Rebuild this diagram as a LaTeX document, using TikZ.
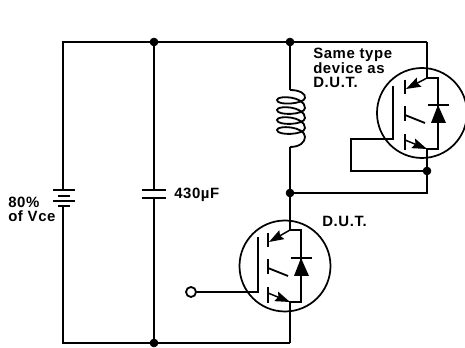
\documentclass[tikz,border=0pt]{standalone}
\usepackage{fontspec}
\setmainfont[LetterSpace=4]{Liberation Sans}
\usetikzlibrary{arrows.meta}
\tikzset{
    wire/.style={line width=1.35pt},
    ring/.style={line width=1.3pt},
    label/.style={font=\bfseries\fontsize{11.2}{11}\selectfont,align=left,inner sep=0pt},
    emitter/.style={line width=1.1pt,-{Stealth[length=11pt,width=7.5pt,inset=1.5pt]}}
}
\begin{document}
\begin{tikzpicture}[x=0.75pt,y=-0.75pt]
    \useasboundingbox (0,0) rectangle (465,348);

    \coordinate (TL) at (63,42);
    \coordinate (TC) at (154,42);
    \coordinate (TI) at (290,42);
    \coordinate (TR) at (427,42);
    \coordinate (BL) at (63,343);
    \coordinate (BC) at (154,343);
    \coordinate (BI) at (290,343);

    %bateria
    \coordinate (Bat1) at (63,190);
    \coordinate (Bat2) at (63,206);
    \draw[wire] (Bat2) -- (BL) -- (BC) -- (BI);
    \draw[wire] (Bat1) -- (TL) -- (TC) -- (TI) -- (TR);
    \draw[wire] (53,190) -- (75,190);
    \draw[wire] (58,196) -- (70,196);
    \draw[wire] (53,201) -- (75,201);
    \draw[wire] (58,206) -- (70,206);

    %condensador
    \coordinate (Cap1) at (154,190);
    \coordinate (Cap2) at (154,198);
    \draw[wire] (TC) -- (Cap1);
    \draw[wire] (Cap2) -- (BC);
    \draw[wire] (142,190) -- (166,190);
    \draw[wire] (142,198) -- (166,198);

    %bobina
    \coordinate (L1) at (290,90);
    \coordinate (L2) at (290,147);
    \coordinate (Mid) at (290,193);
    \coordinate (MidR) at (427,193);
    \draw[wire] (TI) -- (L1);
    \draw[wire] (L2) -- (Mid);
    \draw[wire] (L1) .. controls (300,90) and (306,94) .. (305,98)
        .. controls (304,104) and (277,106) .. (277,100)
        .. controls (277,95) and (305,96) .. (305,108)
        .. controls (305,115) and (277,116) .. (277,110)
        .. controls (277,105) and (305,106) .. (305,118)
        .. controls (305,125) and (277,126) .. (277,120)
        .. controls (277,115) and (305,116) .. (305,128)
        .. controls (305,135) and (277,136) .. (277,130)
        .. controls (277,125) and (305,126) .. (305,137)
        .. controls (305,142) and (300,147) .. (L2);

    %transistor auxiliar
    \coordinate (UC) at (422,113);
    \coordinate (UA) at (427,78);
    \coordinate (UB) at (427,149);
    \coordinate (UD) at (438,78);
    \coordinate (UE) at (438,149);
    \coordinate (UG) at (393,86);
    \coordinate (UH) at (393,139);
    \coordinate (UJ) at (351,139);
    \coordinate (UK) at (351,171);
    \coordinate (UL) at (427,171);
    \draw[ring] (UC) circle (45);
    \draw[wire] (TR) -- (UA) -- (UD) -- (UE) -- (UB) -- (UL) -- (MidR) -- (Mid);
    \draw[wire] (UG) -- (UH) -- (UJ) -- (UK) -- (UL);
    \draw[wire] (405,80) -- (405,94);
    \draw[wire] (405,106) -- (405,121);
    \draw[wire] (405,134) -- (405,150);
    \draw[wire] (405,115) -- (425,123);
    \draw[emitter] (UA) -- (406,89);
    \draw[emitter] (405,140) -- (UB);
    \draw[wire] (428,105) -- (449,105);
    \fill (438,105) -- (431,123) -- (446,123) -- cycle;

    %transistor D.U.T.
    \coordinate (DC) at (285,266);
    \coordinate (DA) at (290,230);
    \coordinate (DB) at (290,302);
    \coordinate (DD) at (301,230);
    \coordinate (DE) at (301,302);
    \coordinate (DG) at (258,237);
    \coordinate (DH) at (258,292);
    \coordinate (DJ) at (196,292);
    \coordinate (DK) at (191,292);
    \draw[ring] (DC) circle (45.5);
    \draw[wire] (Mid) -- (DA) -- (DD) -- (DE) -- (DB) -- (BI);
    \draw[wire] (DG) -- (DH) -- (DJ);
    \draw[wire] (268,233) -- (268,247);
    \draw[wire] (268,259) -- (268,274);
    \draw[wire] (268,287) -- (268,303);
    \draw[wire] (268,268) -- (288,276);
    \draw[emitter] (DA) -- (269,242);
    \draw[emitter] (268,293) -- (DB);
    \draw[wire] (291,258) -- (312,258);
    \fill (301,258) -- (294,276) -- (309,276) -- cycle;
    \draw[wire] (DK) circle (5);

    \filldraw (TC) circle (4);
    \filldraw (TI) circle (4);
    \filldraw (BC) circle (4);
    \filldraw (Mid) circle (4);
    \filldraw (UL) circle (4);

    \node[label,anchor=base west] (same) at (313,88) {Same type\\device as\\D.U.T.};
    \node[label,anchor=base west] (dut) at (322,227) {D.U.T.};
    \node[label,anchor=base west] (cap) at (174,199) {430µF};
    \node[label,anchor=base west] (vce) at (8,222) {80\%\\of Vce};
\end{tikzpicture}
\end{document}
